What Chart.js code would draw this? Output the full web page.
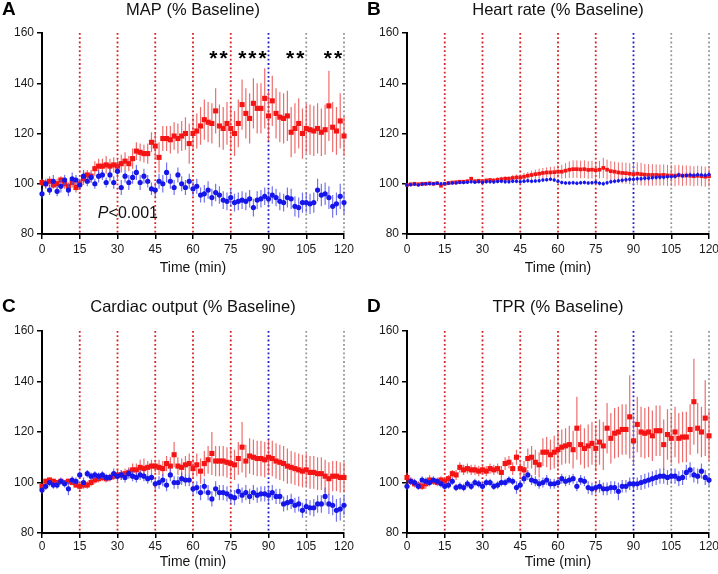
<!DOCTYPE html>
<html lang="en">
<head>
  <meta charset="UTF-8">
  <title>Hemodynamics (% Baseline)</title>
  <style>
    body { margin: 0; background: #fff; }
    .figure { position: relative; width: 718px; height: 574px; }
    .figure canvas { position: absolute; }
  </style>
</head>
<body>
  <div class="figure">
    <canvas id="chartA" width="359" height="287" style="left:0;top:0"></canvas>
    <canvas id="chartB" width="359" height="287" style="left:359px;top:0"></canvas>
    <canvas id="chartC" width="359" height="287" style="left:0;top:287px"></canvas>
    <canvas id="chartD" width="359" height="287" style="left:359px;top:287px"></canvas>
  </div>

  <script src="https://cdn.jsdelivr.net/npm/chart.js"></script>
  <script>
    // Sample times (min), one every 1.5 min.
    const times = [
      0, 1.5, 3, 4.5, 6, 7.5, 9, 10.5, 12, 13.5,
      15, 16.5, 18, 19.5, 21, 22.5, 24, 25.5, 27, 28.5,
      30, 31.5, 33, 34.5, 36, 37.5, 39, 40.5, 42, 43.5,
      45, 46.5, 48, 49.5, 51, 52.5, 54, 55.5, 57, 58.5,
      60, 61.5, 63, 64.5, 66, 67.5, 69, 70.5, 72, 73.5,
      75, 76.5, 78, 79.5, 81, 82.5, 84, 85.5, 87, 88.5,
      90, 91.5, 93, 94.5, 96, 97.5, 99, 100.5, 102, 103.5,
      105, 106.5, 108, 109.5, 111, 112.5, 114, 115.5, 117, 118.5,
      120
    ];

    // Vertical protocol markers.
    const phaseTimes = [15, 30, 45, 60, 75, 90, 105, 120];
    const phaseKinds = ['red', 'red', 'red', 'red', 'red', 'blue', 'gray', 'gray'];

    const xTicks = [0, 15, 30, 45, 60, 75, 90, 105, 120];
    const yTicks = [80, 100, 120, 140, 160];

    // A: MAP
    const mapRed = [
      100.5, 100, 101, 99.5, 100, 101.5, 100, 99, 100.5, 98.5,
      100, 102, 103.5, 103, 106, 107, 107, 107.5, 107, 107.5,
      107, 108, 109, 108, 110, 113, 112.5, 112, 112, 116.5,
      115, 110.5, 118, 118, 117.5, 119, 118, 119, 120, 116,
      120, 121, 123, 125.5, 124.5, 124, 129, 123, 122, 124,
      122, 120, 124, 131.5, 128, 126, 132, 130, 130, 134,
      127, 133, 128, 126.5, 126, 127, 120.5, 122, 124, 120,
      122, 121.5, 121, 122, 120.5, 121.5, 131, 122.5, 121, 125,
      119
    ];
    const mapRedSem = [
      1.5, 1.5, 2, 1.5, 2, 1.5, 2, 1.5, 2, 2,
      2, 2.5, 2, 2.5, 3, 3, 3, 3.5, 3, 3,
      3, 3.5, 3.5, 3, 4, 3.5, 3.5, 3.5, 4, 4,
      5, 6, 5, 5, 5.5, 5.5, 6, 6, 6.5, 8,
      6.5, 7, 7.5, 8, 8, 8, 9, 8.5, 8.5, 8.5,
      9, 9, 9.5, 10, 10, 10, 10, 10, 10, 12,
      10, 10, 10, 10, 10, 10, 10, 10, 10, 10,
      10, 10, 10, 10, 9.5, 10, 14, 10, 9.5, 11,
      8
    ];
    const mapBlue = [
      96, 100, 97.5, 101, 97, 99, 101.5, 97.5, 102, 101.5,
      99.5, 103, 101, 102.5, 100, 103, 103.5, 100.5, 103.5, 100.5,
      105, 98.5, 103, 100.5, 102.5, 104.5, 100.5, 103, 101, 98,
      97.5, 101, 100, 104.5, 101, 98.5, 103.5, 100, 98.5, 101,
      98, 99, 95.5, 96, 97.5, 94.5, 96.5, 95.5, 93.5, 93,
      94.5, 92.5, 93, 93.5, 93, 94, 90.5, 93.5, 94, 95,
      94, 95.5, 94.5, 93, 92.5, 94.5, 94, 91, 90.5, 92.5,
      92.5, 92, 92.5, 97.5, 95.5, 96, 94.5, 91, 92, 95,
      92.5
    ];
    const mapBlueSem = [
      2, 2, 2, 2.5, 2, 2.5, 2, 2.5, 2.5, 2,
      2, 2.5, 2, 2, 2, 2.5, 2, 2, 2.5, 2.5,
      3, 3, 2.5, 3, 2.5, 3, 3, 3, 2.5, 2.5,
      3, 3, 3.5, 4, 3, 3, 3, 3, 3, 3,
      3, 3, 3, 3.5, 3.5, 3.5, 3.5, 3.5, 3.5, 3.5,
      3.5, 3.5, 3.5, 3.5, 3.5, 3.5, 3.5, 3.5, 3.5, 3.5,
      3.5, 3.5, 3.5, 3.5, 3.5, 4, 4, 4, 4, 4,
      4, 4, 4, 4.5, 4.5, 4.5, 4.5, 4.5, 4.5, 5,
      4.5
    ];
    const mapStars = ['**', '***', '**', '**'];
    const mapStarTimes = [70.5, 84, 101, 116];

    // B: Heart rate
    const hrRed = [
      99.5, 99.8, 100, 99.8, 100, 100, 100.2, 100, 100.2, 99.2,
      100, 100.3, 100.5, 100.6, 100.8, 100.8, 101, 102, 101, 101.2,
      101, 101.3, 101.5, 101.3, 101.6, 101.8, 102, 102, 102.3, 102.5,
      102.5, 102.8, 103.2, 103.5, 103.8, 104, 104.3, 104.5, 104.5, 104.6,
      104.8, 104.8, 105.2, 105.6, 105.8, 105.8, 105.7, 105.8, 105.5, 105.6,
      105.4, 105.6, 106.3, 105.6, 105, 104.8, 104.5, 104.3, 104.2, 104,
      103.8, 104, 103.8, 103.6, 103.5, 103.5, 103.5, 103.4, 103.5, 103.3,
      103.3, 103.2, 103.4, 103.2, 103.3, 103.2, 103, 103.2, 103, 102.8,
      103
    ];
    const hrRedSem = [
      0.5, 0.5, 0.5, 0.5, 0.5, 0.5, 0.5, 0.5, 0.5, 0.5,
      0.5, 0.5, 0.6, 0.6, 0.6, 0.7, 0.7, 0.8, 0.7, 0.7,
      0.8, 0.8, 0.8, 0.9, 0.9, 1, 1, 1, 1.2, 1.2,
      1.3, 1.5, 1.5, 1.7, 1.8, 2, 2, 2, 2.2, 2.3,
      2.5, 2.8, 3, 3.3, 3.5, 3.5, 3.5, 3.5, 3.5, 3.5,
      3.5, 3.5, 4, 4, 4, 4, 4, 4.2, 4.2, 4.2,
      4.5, 4.5, 4.5, 4.3, 4.3, 4.3, 4.2, 4.2, 4.2, 4.2,
      4.2, 4.2, 4.1, 4.1, 4, 4, 4, 4, 4, 4,
      4
    ];
    const hrBlue = [
      99.5, 99.6, 99.8, 99.5, 99.8, 100, 100, 100, 100.2, 100,
      100, 100.2, 100.3, 100.3, 100.5, 100.5, 100.6, 100.8, 100.6, 100.8,
      100.5, 100.8, 100.8, 100.7, 100.9, 101, 100.8, 100.8, 101, 101,
      100.8, 101, 101.2, 101, 101.1, 101.2, 101.5, 101.6, 101.8, 101.5,
      101, 100.5, 100.3, 100.3, 100.4, 100.2, 100.4, 100.5, 100.3, 100.4,
      100.6, 100.2, 100, 100.4, 100.8, 101, 101.2, 101.4, 101.6, 101.8,
      101.8, 102, 102, 102.2, 102.2, 102.4, 102.5, 102.6, 102.6, 102.8,
      102.8, 103, 103.5, 103.2, 103.3, 103.5, 103.4, 103.6, 103.5, 103.4,
      103.7
    ];
    const hrBlueSem = [
      0.6, 0.6, 0.6, 0.6, 0.6, 0.6, 0.6, 0.6, 0.6, 0.6,
      0.6, 0.6, 0.6, 0.6, 0.6, 0.7, 0.7, 0.7, 0.7, 0.7,
      0.7, 0.7, 0.7, 0.7, 0.7, 0.8, 0.8, 0.8, 0.8, 0.8,
      0.8, 0.8, 0.8, 0.8, 0.8, 0.8, 0.8, 0.8, 0.8, 0.8,
      0.8, 0.8, 0.8, 0.8, 0.8, 0.8, 0.8, 0.8, 0.8, 0.8,
      0.9, 0.9, 0.9, 0.9, 0.9, 0.9, 0.9, 0.9, 0.9, 0.9,
      1, 1, 1, 1, 1, 1, 1, 1, 1, 1,
      1, 1, 1, 1, 1, 1, 1, 1, 1, 1,
      1
    ];

    // C: Cardiac output
    const coRed = [
      98.5, 100.5, 101, 100.5, 100, 100.5, 100, 100.5, 100, 99,
      98.5, 99, 99, 100, 101, 101.5, 102, 101.5, 102, 102.5,
      103, 103, 103.5, 104, 105, 105, 106, 105.5, 106, 106.5,
      106.5, 106, 105.5, 107.5, 106.5, 111, 106.5, 106, 107, 107.5,
      105.5, 107, 104.5, 107.5, 109, 111.5, 108.5, 108.5, 108.5, 108,
      107.5, 107, 109.5, 114, 108.5, 110.5, 110, 109.5, 109.5, 109,
      110, 109.5, 108.5, 108, 107.5, 106.5, 106, 105.5, 105, 104.5,
      105, 104, 104, 103.5, 103.5, 102.5, 101.5, 102.5, 102.5, 102,
      102
    ];
    const coRedSem = [
      1, 1, 1, 1, 1, 1, 1, 1, 1, 1,
      1.5, 1.5, 1.5, 1.5, 1.5, 1.5, 1.5, 1.5, 1.5, 1.5,
      2, 2, 2, 2, 2.5, 2.5, 3, 4, 2.5, 2.5,
      2.5, 3, 3, 3, 3.5, 5, 3.5, 3.5, 3.5, 4,
      4, 4.5, 5, 5, 5.5, 8.5, 6, 6, 6, 6,
      6, 6, 6.5, 10, 6.5, 7, 7, 7, 7, 7,
      7, 7, 7, 7, 7, 7, 6.5, 6.5, 6.5, 6.5,
      6.5, 6.5, 6.5, 6.5, 6.5, 6.5, 6.5, 6, 6, 6,
      6
    ];
    const coBlue = [
      97, 98.5, 100, 99, 99, 100.5, 99.5, 97.5, 101, 100.5,
      103, 100, 103.5, 102.5, 103, 102.5, 103, 102, 102, 103.5,
      102.5, 103, 102, 103.5, 102.5, 102, 103, 102.5, 101.5, 102,
      99.5, 100, 101, 99, 103, 100, 100, 101.5, 101, 101,
      97.5, 98, 96, 98.5, 96, 93.5, 97.5, 96, 96, 95.5,
      94.5, 94, 96.5, 95, 96, 94.5, 96, 95, 95.5, 95.5,
      95, 96, 94.5, 94.5, 91.5, 92, 92.5, 91, 91.5, 89,
      90.5, 90, 90, 91.5, 91.5, 94.5, 91.5, 91, 89, 89.5,
      91
    ];
    const coBlueSem = [
      1.5, 1.5, 1.5, 1.5, 1.5, 1.5, 1.5, 2.5, 1.5, 1.5,
      1.5, 2, 1.5, 1.5, 1.5, 1.5, 1.5, 1.5, 1.5, 2,
      2, 2, 2, 2, 2, 2, 2, 2, 2, 2,
      2.5, 2.5, 2.5, 2.5, 2.5, 2.5, 2.5, 2.5, 2.5, 2.5,
      2.5, 2.5, 3, 3, 3, 3, 3, 3, 3, 3,
      3, 3, 3, 3, 3, 3, 3, 3, 3, 3,
      3, 3, 3, 3, 3, 3, 3, 3, 3, 3,
      3, 3, 3.5, 3.5, 3.5, 3.5, 4, 4, 4.5, 4.5,
      4
    ];

    // D: TPR
    const tprRed = [
      102, 100.5, 99.5, 99, 98.5, 99.5, 101, 100.5, 100, 101,
      100.5, 101.5, 103.5, 103, 106, 105, 105.5, 105, 105, 104.5,
      105, 104.5, 105.5, 105, 105.5, 104, 107.5, 108, 105.5, 110,
      105.5, 105, 109.5, 110, 108, 107, 112, 112, 111, 112,
      113, 114, 114.5, 115, 113, 121.5, 115, 113.5, 114.5, 115.5,
      113.5, 116, 114.5, 121.5, 117.5, 119.5, 120, 121, 121, 126,
      116.5, 123, 120, 119.5, 120, 118.5, 120.5, 120.5, 115, 119,
      117.5, 120, 117.5, 118, 118, 121, 132, 121.5, 120, 125.5,
      118.5
    ];
    const tprRedSem = [
      2, 1.5, 1.5, 1.5, 1.5, 2, 2, 1.5, 1.5, 1.5,
      1.5, 1.5, 1.5, 2, 2, 2, 2, 2, 2, 2,
      2, 2, 2, 2, 2, 2.5, 2.5, 2.5, 2.5, 3,
      3.5, 3.5, 4, 4.5, 5, 5, 5.5, 6, 6, 6.5,
      7, 7, 7, 7.5, 7.5, 12.5, 8, 8, 8.5, 8.5,
      9, 9, 9.5, 10, 10, 10, 10, 10, 10, 16.5,
      10, 11, 10, 10, 10, 10, 10, 10, 10, 10,
      10, 10, 10, 10, 10, 10, 17, 10, 10, 15,
      10
    ];
    const tprBlue = [
      98.5, 100.5, 100, 98.5, 101, 100.5, 100, 101, 100.5, 99.5,
      98.5, 99, 100.5, 98, 98.5, 98, 99.5, 98.5, 100, 99.5,
      98.5, 100, 100, 98.5, 99, 100, 100, 101, 100.5, 98,
      99, 101.5, 103, 101, 100.5, 99.5, 100, 101, 99.5, 99.5,
      100, 101.5, 100.5, 101, 101.5, 98.5, 101, 100.5, 98, 97.5,
      98, 98.5, 97.5, 97.5, 98, 98, 96.5, 98.5, 98.5, 99.5,
      99.5, 99.5, 100, 100.5, 101, 101.5, 102, 102.5, 102.5, 102,
      102.5, 102.5, 101.5, 102, 104, 105, 103, 102.5, 104.5, 102,
      101
    ];
    const tprBlueSem = [
      1.5, 1.5, 1.5, 1.5, 1.5, 1.5, 1.5, 1.5, 1.5, 1.5,
      1.5, 1.5, 1.5, 1.5, 1.5, 1.5, 1.5, 1.5, 1.5, 1.5,
      1.5, 1.5, 1.5, 1.5, 1.5, 1.5, 1.5, 1.5, 1.5, 2.5,
      2, 2, 2, 2, 2, 2, 2, 2, 2, 2,
      2, 2, 2, 2, 2, 2, 2, 2, 2.5, 2.5,
      2.5, 2.5, 2.5, 2.5, 2.5, 2.5, 3.5, 2.5, 2.5, 2.5,
      2.5, 2.5, 3, 3, 3, 3, 3, 3, 3, 3,
      3, 3, 3, 3, 3, 3, 3, 3, 3, 3,
      2.5
    ];

    const FONT = '"Liberation Sans", Arial, sans-serif';
    Chart.defaults.font.family = FONT;
    Chart.defaults.color = '#1a1a1a';

    const phaseColors = {
      red: 'rgb(214,34,34)',
      blue: 'rgb(28,28,200)',
      gray: 'rgb(150,150,150)'
    };

    /**
     * Dotted vertical lines at each protocol step.
     */
    const phaseLinesPlugin = {
      id: 'phaseLines',
      beforeDatasetsDraw(chart) {
        const {ctx, chartArea, scales: {x}} = chart;
        ctx.save();
        ctx.lineWidth = 1.8;
        ctx.setLineDash([1.8, 2.5]);
        phaseTimes.forEach((t, i) => {
          const px = x.getPixelForValue(t);
          ctx.strokeStyle = phaseColors[phaseKinds[i]];
          ctx.beginPath();
          ctx.moveTo(px, chartArea.top);
          ctx.lineTo(px, chartArea.bottom);
          ctx.stroke();
        });
        ctx.restore();
      }
    };

    /**
     * Vertical SEM bars, drawn just under their own markers.
     */
    const errorBarPlugin = {
      id: 'errorBars',
      beforeDatasetDraw(chart, args) {
        const ds = chart.data.datasets[args.index];
        if (!ds.errors) return;
        const {ctx, scales: {y}} = chart;
        ctx.save();
        ctx.strokeStyle = ds.errorColor;
        ctx.lineWidth = ds.errorWidth;
        ctx.beginPath();
        args.meta.data.forEach((pt, i) => {
          const v = ds.data[i].y;
          const e = ds.errors[i];
          ctx.moveTo(pt.x, y.getPixelForValue(v + e));
          ctx.lineTo(pt.x, y.getPixelForValue(v - e));
        });
        ctx.stroke();
        ctx.restore();
      }
    };

    /**
     * Panel letter, title and the text notes of panel A.
     */
    const labelsPlugin = {
      id: 'panelLabels',
      afterDraw(chart, args, opts) {
        const {ctx, chartArea, scales: {x, y}} = chart;
        ctx.save();
        ctx.fillStyle = '#000';
        ctx.textBaseline = 'alphabetic';
        ctx.font = `900 19px ${FONT}`;
        ctx.textAlign = 'left';
        ctx.fillText(opts.letter, opts.letterX, opts.baseline);

        ctx.fillStyle = '#111';
        ctx.font = `16.5px ${FONT}`;
        ctx.textAlign = 'center';
        ctx.fillText(opts.title, (chartArea.left + chartArea.right) / 2, opts.baseline);

        if (opts.stars) {
          ctx.fillStyle = '#000';
          ctx.font = `bold 21px ${FONT}`;
          ctx.letterSpacing = '2px';
          opts.stars.forEach((s, i) => {
            ctx.fillText(s, x.getPixelForValue(opts.starTimes[i]), y.getPixelForValue(152) + 12);
          });
          ctx.letterSpacing = '0px';
        }
        if (opts.pValue) {
          const px = x.getPixelForValue(22.2);
          const py = y.getPixelForValue(88.8) + 6;
          ctx.fillStyle = '#111';
          ctx.textAlign = 'left';
          ctx.font = `italic 16px ${FONT}`;
          ctx.fillText('P', px, py);
          const w = ctx.measureText('P').width;
          ctx.font = `16px ${FONT}`;
          ctx.fillText('<0.001', px + w, py);
        }
        ctx.restore();
      }
    };

    const toPoints = values => times.map((t, i) => ({x: t, y: values[i]}));

    /**
     * Draw one panel.
     */
    function drawPanel(p) {
      const canvas = document.getElementById(p.id);
      const W = canvas.width, H = canvas.height;
      const small = p.small;

      const datasets = [
        {
          label: 'Red',
          data: toPoints(p.red),
          errors: p.redSem,
          errorColor: 'rgba(232,72,72,0.8)',
          errorWidth: small ? 1 : 1.2,
          pointStyle: 'rect',
          pointRadius: small ? 2.6 : 3.6,
          backgroundColor: 'rgb(245,20,20)',
          borderWidth: 0,
          order: 2,
          clip: false
        },
        {
          label: 'Blue',
          data: toPoints(p.blue),
          errors: p.blueSem,
          errorColor: 'rgba(80,80,232,0.8)',
          errorWidth: small ? 1 : 1.2,
          pointStyle: 'circle',
          pointRadius: small ? 1.7 : 2.6,
          backgroundColor: 'rgb(22,22,235)',
          borderWidth: 0,
          order: 1,
          clip: false
        }
      ];

      const config = {
        type: 'scatter',
        data: {datasets},
        options: {
          responsive: false,
          animation: false,
          devicePixelRatio: 1,
          layout: {
            padding: {left: 0, top: p.plotTop, right: W - p.plotRight, bottom: 0}
          },
          plugins: {
            legend: {display: false},
            tooltip: {enabled: false},
            panelLabels: {
              letter: p.letter,
              letterX: p.letterX,
              baseline: p.baseline,
              title: p.title,
              stars: p.stars,
              starTimes: p.starTimes,
              pValue: p.pValue
            }
          },
          scales: {
            x: {
              type: 'linear',
              min: 0,
              max: 120,
              afterBuildTicks: scale => { scale.ticks = xTicks.map(v => ({value: v})); },
              afterFit: scale => {
                scale.height = H - p.plotBottom;
                scale.paddingLeft = 0;
                scale.paddingRight = 0;
              },
              border: {display: true, color: '#000', width: 2},
              grid: {display: true, drawOnChartArea: false, drawTicks: true, tickLength: 5, color: '#000', lineWidth: 1.5},
              ticks: {color: '#1a1a1a', padding: p.tickPad, font: {size: 12}},
              title: {display: true, text: 'Time (min)', color: '#111', font: {size: 14}, padding: {top: 0, bottom: p.titlePad}}
            },
            y: {
              type: 'linear',
              min: 80,
              max: 160,
              afterBuildTicks: scale => { scale.ticks = yTicks.map(v => ({value: v})); },
              afterFit: scale => { scale.width = p.plotLeft; },
              border: {display: true, color: '#000', width: 2},
              grid: {display: true, drawOnChartArea: false, drawTicks: true, tickLength: 5, color: '#000', lineWidth: 1.5},
              ticks: {color: '#1a1a1a', padding: 3, font: {size: 12}}
            }
          }
        },
        plugins: [phaseLinesPlugin, errorBarPlugin, labelsPlugin]
      };
      return new Chart(canvas, config);
    }

    const topRow = {plotTop: 33, plotBottom: 234, baseline: 15, tickPad: 3, titlePad: 10.5};
    const bottomRow = {plotTop: 44, plotBottom: 246, baseline: 25, tickPad: 1, titlePad: 3.5};
    const leftCol = {plotLeft: 42, plotRight: 344, letterX: 2};
    const rightCol = {plotLeft: 48, plotRight: 350, letterX: 8};

    const charts = [
      drawPanel({id: 'chartA', letter: 'A', title: 'MAP (% Baseline)', ...topRow, ...leftCol,
        red: mapRed, redSem: mapRedSem, blue: mapBlue, blueSem: mapBlueSem,
        stars: mapStars, starTimes: mapStarTimes, pValue: true}),
      drawPanel({id: 'chartB', letter: 'B', title: 'Heart rate (% Baseline)', ...topRow, ...rightCol, small: true,
        red: hrRed, redSem: hrRedSem, blue: hrBlue, blueSem: hrBlueSem}),
      drawPanel({id: 'chartC', letter: 'C', title: 'Cardiac output (% Baseline)', ...bottomRow, ...leftCol,
        red: coRed, redSem: coRedSem, blue: coBlue, blueSem: coBlueSem}),
      drawPanel({id: 'chartD', letter: 'D', title: 'TPR (% Baseline)', ...bottomRow, ...rightCol,
        red: tprRed, redSem: tprRedSem, blue: tprBlue, blueSem: tprBlueSem})
    ];

    // For debugging.
    window.charts = charts;
  </script>
</body>
</html>
